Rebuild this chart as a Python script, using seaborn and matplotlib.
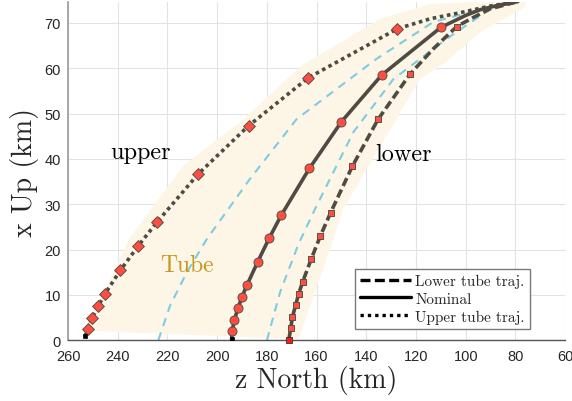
import matplotlib
matplotlib.use("Agg")
import matplotlib.pyplot as plt
from matplotlib.lines import Line2D
import seaborn as sns
import pandas as pd

# ---- data (z North km, x Up km) ----
nominal_line_z = [194.2, 194.0, 193.1, 191.6, 190.0, 188.0, 183.7, 179.1, 174.2, 162.9, 150.0, 133.8, 110.0, 100.2, 94.2, 87.5, 79.0]
nominal_line_y = [0.2, 2.0, 4.5, 7.1, 9.6, 12.2, 17.3, 22.5, 27.6, 37.9, 48.2, 58.5, 69.0, 71.6, 72.9, 73.8, 74.7]
nominal_mk_z = [194.0, 193.1, 191.6, 190.0, 188.0, 183.7, 179.1, 174.2, 162.9, 150.0, 133.8, 110.0]
nominal_mk_y = [2.0, 4.5, 7.1, 9.6, 12.2, 17.3, 22.5, 27.6, 37.9, 48.2, 58.5, 69.0]

lower_line_z = [171.2, 170.4, 169.7, 168.4, 167.2, 165.6, 162.1, 158.5, 154.4, 145.6, 135.3, 122.4, 113.0, 103.6, 96.9, 90.2, 79.0]
lower_line_y = [0.0, 2.7, 5.2, 7.8, 10.3, 12.9, 18.0, 23.0, 28.1, 38.4, 48.7, 58.7, 64.3, 69.2, 71.2, 73.1, 74.7]
lower_mk_z = [170.4, 169.7, 168.4, 167.2, 165.6, 162.1, 158.5, 154.4, 145.6, 135.3, 122.4, 103.6]
lower_mk_y = [2.7, 5.2, 7.8, 10.3, 12.9, 18.0, 23.0, 28.1, 38.4, 48.7, 58.7, 69.2]

upper_line_z = [253.2, 252.0, 250.3, 247.8, 245.2, 239.0, 231.8, 224.3, 207.6, 187.4, 163.3, 127.5, 114.3, 100.9, 90.2, 79.0]
upper_line_y = [0.9, 2.4, 5.0, 7.6, 10.2, 15.4, 20.8, 26.0, 36.7, 47.3, 57.9, 68.7, 70.9, 72.4, 73.7, 74.7]
upper_mk_z = [252.0, 250.3, 247.8, 245.2, 239.0, 231.8, 224.3, 207.6, 187.4, 163.3, 127.5]
upper_mk_y = [2.4, 5.0, 7.6, 10.2, 15.4, 20.8, 26.0, 36.7, 47.3, 57.9, 68.7]

start_black_z = [253.2, 194.2]
start_black_y = [0.9, 0.2]
start_red_z = [171.2]
start_red_y = [0.0]

blue_left_z = [223.7, 219.0, 212.2, 204.2, 186.8, 168.0, 135.8, 113.0, 86.0, 79.0]
blue_left_y = [0.0, 7.6, 15.0, 22.3, 35.6, 48.8, 62.1, 70.2, 74.2, 74.7]
blue_right_z = [180.0, 174.7, 167.3, 160.6, 145.2, 129.1, 107.6, 90.0, 81.0]
blue_right_y = [0.0, 10.6, 21.2, 29.0, 45.9, 57.6, 66.5, 73.1, 74.7]

tube_z = [252.5, 235.5, 213.6, 190.8, 166.0, 134.4, 114.0, 76.0, 76.0, 94.2, 107.6, 118.4, 149.3, 153.2, 167.3]
tube_y = [2.1, 22.3, 38.5, 48.1, 60.6, 70.9, 74.2, 75.0, 73.5, 68.0, 61.5, 57.6, 29.0, 22.3, 0.3]

legend_labels = ["Lower tube traj.", "Nominal", "Upper tube traj."]
x_ticks = [260, 240, 220, 200, 180, 160, 140, 120, 100, 80, 60]
y_ticks = [0, 10, 20, 30, 40, 50, 60, 70]

# ---- style ----
sns.set_theme(style="whitegrid")
plt.rcParams['font.family'] = ['Liberation Sans', 'DejaVu Sans']
SERIF = 'cmr10'
LINE_C = '#4f4b42'
MK_FACE = '#ff4d40'
MK_EDGE = '#5a4f48'
BLUE = '#7fcbe3'

fig = plt.figure(figsize=(5.72, 4.02), dpi=100)
ax = fig.add_axes([0.119, 0.151, 0.869, 0.8415])

ax.fill(tube_z, tube_y, color='#fdf5e6', lw=0, zorder=1)

sns.lineplot(x=blue_left_z, y=blue_left_y, sort=False, estimator=None, ax=ax,
             color=BLUE, lw=1.5, linestyle=(0, (4, 3.2)), zorder=2)
sns.lineplot(x=blue_right_z, y=blue_right_y, sort=False, estimator=None, ax=ax,
             color=BLUE, lw=1.5, linestyle=(0, (4, 3.2)), zorder=2)

sns.lineplot(x=upper_line_z, y=upper_line_y, sort=False, estimator=None, ax=ax,
             color=LINE_C, lw=2.6, linestyle=(0, (1, 1.0)), zorder=3)
sns.lineplot(x=nominal_line_z, y=nominal_line_y, sort=False, estimator=None, ax=ax,
             color=LINE_C, lw=2.6, linestyle='-', zorder=3)
sns.lineplot(x=lower_line_z, y=lower_line_y, sort=False, estimator=None, ax=ax,
             color=LINE_C, lw=2.6, linestyle=(0, (2.4, 1.1)), zorder=3)

sns.scatterplot(x=upper_mk_z, y=upper_mk_y, ax=ax, marker='D', s=36, color=MK_FACE,
                edgecolor=MK_EDGE, linewidth=0.7, zorder=4)
sns.scatterplot(x=nominal_mk_z, y=nominal_mk_y, ax=ax, marker='o', s=42, color=MK_FACE,
                edgecolor=MK_EDGE, linewidth=0.7, zorder=4)
sns.scatterplot(x=lower_mk_z, y=lower_mk_y, ax=ax, marker='s', s=20, color=MK_FACE,
                edgecolor=MK_EDGE, linewidth=0.7, zorder=4)
sns.scatterplot(x=start_black_z, y=start_black_y, ax=ax, marker='s', s=12, color='black',
                edgecolor='black', linewidth=0.5, zorder=5)
sns.scatterplot(x=start_red_z, y=start_red_y, ax=ax, marker='s', s=22, color='#ff1a1a',
                edgecolor='#333333', linewidth=0.6, zorder=5, clip_on=False)

ax.set_xlim(260, 60)
ax.set_ylim(0, 74.6)
ax.set_xticks(x_ticks)
ax.set_yticks(y_ticks)
ax.tick_params(axis='both', labelsize=10.5, labelcolor='#262626', direction='in',
               length=4, color='#444444')
ax.tick_params(axis='x', pad=6)
ax.tick_params(axis='y', pad=5)
ax.grid(True, color='#e3e3e3', lw=0.8)
ax.set_axisbelow(True)
for s in ['top', 'right']:
    ax.spines[s].set_visible(False)
ax.spines['left'].set_color('#9a9a9a')
ax.spines['bottom'].set_color('#555555')
ax.spines['left'].set_linewidth(1.2)
ax.spines['bottom'].set_linewidth(1.0)

ax.set_xlabel('z North (km)', fontfamily=SERIF, fontsize=20, color='#262626', labelpad=2)
ax.set_ylabel('x Up (km)', fontfamily=SERIF, fontsize=20, color='#262626', labelpad=4)

ax.text(231, 41.5, 'upper', fontfamily=SERIF, fontsize=17.5, ha='center', va='center', color='black')
ax.text(125.2, 41.1, 'lower', fontfamily=SERIF, fontsize=17.5, ha='center', va='center', color='black')
ax.text(212.1, 16.6, 'Tube', fontfamily=SERIF, fontsize=17, ha='center', va='center', color='#c8961a')

handles = [Line2D([], [], color='black', lw=2.4, linestyle=(0, (3, 1.3))),
           Line2D([], [], color='black', lw=2.4, linestyle='-'),
           Line2D([], [], color='black', lw=2.4, linestyle=(0, (1, 1.2)))]
leg = ax.legend(handles, legend_labels, loc='lower right', bbox_to_anchor=(0.93, 0.033),
                prop={'family': SERIF, 'size': 11}, frameon=True, fancybox=False,
                edgecolor='#7a7a7a', framealpha=1, handlelength=3.3, handletextpad=0.3,
                borderpad=0.35, labelspacing=0.25, borderaxespad=0)
leg.get_frame().set_linewidth(1.0)

fig.savefig('out.png', dpi=100)
